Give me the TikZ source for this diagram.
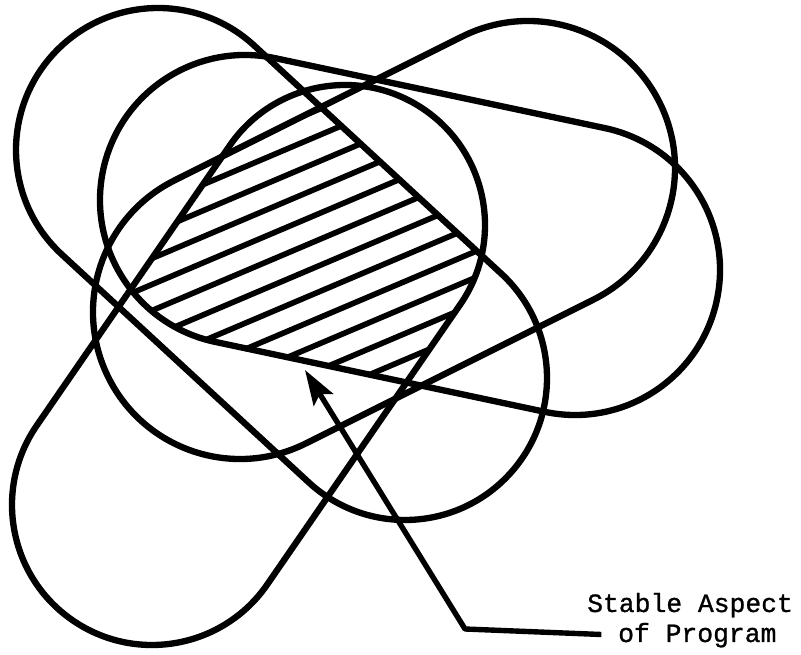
\documentclass[tikz,border=0pt]{standalone}
\usepackage{fontspec}
\newfontfamily\captionfont[FakeBold=1]{Liberation Mono}
\usetikzlibrary{positioning, arrows.meta, calc}

% closed loop round two cap centres with one radius
\newcommand{\petal}[3]{%
  let \p1=($(#2)-(#1)$), \n1={atan2(\y1,\x1)} in
  ($(#1)+(\n1+90:#3)$) arc[start angle=\n1+90, delta angle=180, radius=#3]
  -- ($(#2)+(\n1-90:#3)$) arc[start angle=\n1-90, delta angle=180, radius=#3] -- cycle}

\begin{document}
\begin{tikzpicture}[
    x=0.03cm, y=0.03cm,
    loop/.style={draw=black, line width=5.4pt, line join=round},
    hatch/.style={draw=black, line width=4.8pt},
    leader/.style={draw=black, line width=4.6pt, line join=round,
                   -{Stealth[length=1.05cm, width=0.68cm, inset=0.2cm]}},
    caption/.style={font=\captionfont\fontsize{22.5}{25.6}\selectfont,
                    inner sep=0pt, anchor=base west}
  ]
    \fill[white] (0,0) rectangle (801,-655);
    \useasboundingbox (0,0) rectangle (801,-655);

    % cap centres of the four loops
    \coordinate (pUL) at (158,-150);
    \coordinate (pLR) at (405,-378);
    \coordinate (qL)  at (245,-200);
    \coordinate (qR)  at (575,-270);
    \coordinate (rLL) at (152,-505);
    \coordinate (rUR) at (345,-225);
    \coordinate (tLL) at (240,-312);
    \coordinate (tUR) at (528,-168);
    \coordinate (core) at (330,-235);

    % common part
    \begin{scope}
      \clip \petal{pUL}{pLR}{142};
      \clip \petal{qL}{qR}{145};
      \clip \petal{rLL}{rUR}{140};
      \clip \petal{tLL}{tUR}{147};
      \foreach \d in {-360,-336,...,360}
        \draw[hatch] ($(core)+(113:\d)+(23:-330)$) -- ++(23:660);
    \end{scope}

    \draw[loop] \petal{pUL}{pLR}{142};
    \draw[loop] \petal{qL}{qR}{145};
    \draw[loop] \petal{rLL}{rUR}{140};
    \draw[loop] \petal{tLL}{tUR}{147};

    \node[caption] (stable) at (587,-612) {Stable Aspect};
    \node[caption] (program) at (618,-642) {of Program};
    \coordinate (elbow) at (465,-629);
    \coordinate (tip) at (305,-370);

    \draw[leader, shorten <=0.5cm] (program.west) -- (elbow) -- (tip);
\end{tikzpicture}
\end{document}
